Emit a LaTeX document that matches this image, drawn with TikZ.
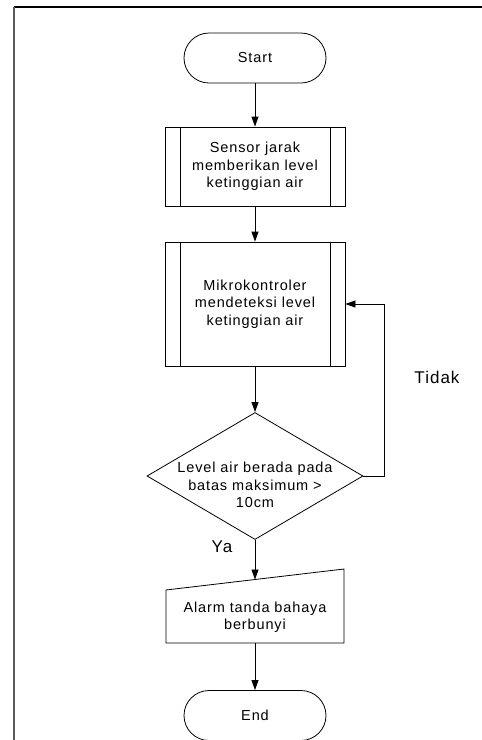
\documentclass[tikz,border=0pt]{standalone}
\usepackage{fontspec}
\setmainfont{Liberation Sans}[LetterSpace=6]
\usetikzlibrary{arrows.meta,shapes.geometric,calc}
\begin{document}
\begin{tikzpicture}[x=1pt,y=-1pt,line width=0.8pt,
  base/.style={font=\fontsize{14.5}{17.5}\selectfont, align=center},
  terminal/.style={base, draw, rectangle, rounded corners=25pt, minimum width=142pt, minimum height=50pt},
  predef/.style={base, draw, rectangle, minimum width=180pt,
    path picture={\draw[line width=0.8pt]
      ([xshift=15pt]path picture bounding box.north west) -- ([xshift=15pt]path picture bounding box.south west)
      ([xshift=-15pt]path picture bounding box.north east) -- ([xshift=-15pt]path picture bounding box.south east);}},
  decision/.style={draw, diamond, minimum width=216pt, minimum height=127pt, inner sep=0pt},
  lbl/.style={base},
  branch/.style={font=\fontsize{17}{20}\selectfont},
  flow/.style={-{Triangle[length=10pt,width=7pt]}, line width=0.8pt}
]
\useasboundingbox (0,0) rectangle (482,740);
% frame
\draw[line width=1.5pt] (14,7) -- (482,7);
\draw[gray!70!black, line width=2pt] (14,7) -- (14,740);

\node[terminal] (start) at (255,58) {Start};
\node[predef, minimum height=79pt] (b1) at (255,166.5) {Sensor jarak\\memberikan level\\ketinggian air};
\node[predef, minimum height=124pt] (b2) at (255,304) {Mikrokontroler\\mendeteksi level\\ketinggian air};
\node[decision] (dec) at (255,476) {};
\node[lbl] (dectext) at (255,485) {Level air berada pada\\batas maksimum >\\10cm};
\coordinate (mtl) at (166,590);
\coordinate (mtr) at (344,569);
\coordinate (mbr) at (344,643);
\coordinate (mbl) at (166,643);
\draw (mbl) -- (mtl) -- (mtr) -- (mbr) -- cycle;
\coordinate (alarmtop) at ($(mtl)!0.5!(mtr)$);
\coordinate (alarmbot) at ($(mbl)!0.5!(mbr)$);
\node[lbl] (alarm) at (255,617) {Alarm tanda bahaya\\berbunyi};
\node[terminal] (end) at (255,715.5) {End};
\node[branch] (tidak) at (437,377) {Tidak};
\node[branch] (ya) at (222,547) {Ya};

\draw[flow] (start.south) -- (b1.north);
\draw[flow] (b1.south) -- (b2.north);
\draw[flow] (b2.south) -- (dec.north);
\draw[flow] (dec.east) -- ++(21,0) |- (b2.east);
\draw[flow] (dec.south) -- (dec.south |- alarmtop);
\draw[flow] (alarmbot) -- (end.north);
\end{tikzpicture}
\end{document}
